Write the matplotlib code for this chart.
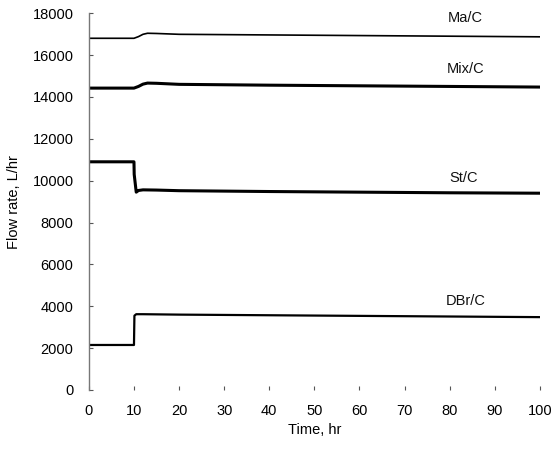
import matplotlib
matplotlib.use("Agg")
import matplotlib.pyplot as plt

plt.rcParams['font.family'] = ['Liberation Sans', 'DejaVu Sans']

# Time (hr) and flow rate (L/hr) series
t_ma = [0, 10, 11, 12, 13, 15, 20, 40, 60, 80, 100]
ma_c = [16800, 16800, 16880, 16990, 17040, 17030, 16990, 16960, 16930, 16900, 16870]

t_mix = [0, 10, 11, 12, 13, 15, 20, 40, 60, 80, 100]
mix_c = [14420, 14420, 14500, 14610, 14660, 14650, 14600, 14560, 14530, 14500, 14470]

t_st = [0, 10, 10.05, 10.5, 11, 12, 15, 20, 40, 60, 80, 100]
st_c = [10900, 10900, 10300, 9450, 9530, 9560, 9550, 9520, 9480, 9450, 9420, 9400]

t_dbr = [0, 10, 10.1, 10.5, 12, 20, 40, 60, 80, 100]
dbr_c = [2150, 2150, 3550, 3620, 3620, 3600, 3570, 3540, 3510, 3480]

labels = ["Ma/C", "Mix/C", "St/C", "DBr/C"]
label_pos = [(83.5, 17750), (83.5, 15350), (83, 10150), (83.5, 4250)]

xticks = [0, 10, 20, 30, 40, 50, 60, 70, 80, 90, 100]
yticks = [0, 2000, 4000, 6000, 8000, 10000, 12000, 14000, 16000, 18000]

fig = plt.figure(figsize=(5.52, 4.54), dpi=100)
ax = fig.add_axes([0.161, 0.141, 0.817, 0.830])

ax.plot(t_ma, ma_c, color='black', lw=1.2)
ax.plot(t_mix, mix_c, color='black', lw=2.2)
ax.plot(t_st, st_c, color='black', lw=2.2)
ax.plot(t_dbr, dbr_c, color='black', lw=1.6)

for lab, (x, y) in zip(labels, label_pos):
    ax.text(x, y, lab, fontsize=10.5, ha='center', va='center', color='#111111')

ax.set_xlim(0, 100)
ax.set_ylim(0, 18000)
ax.set_xticks(xticks)
ax.set_yticks(yticks)
ax.tick_params(axis='y', direction='in', length=3, width=0.8, color='#555555', labelsize=10.5, pad=11)
ax.tick_params(axis='x', direction='in', length=3, width=0.8, color='#555555', labelsize=10.5, pad=10)

for s in ['top', 'right', 'bottom']:
    ax.spines[s].set_visible(False)
ax.spines['left'].set_color('#777777')
ax.spines['left'].set_linewidth(1.0)

ax.set_xlabel("Time, hr", fontsize=10.5, labelpad=4)
ax.set_ylabel("Flow rate, L/hr", fontsize=10.5, labelpad=8)

fig.savefig("out.png", dpi=100)
